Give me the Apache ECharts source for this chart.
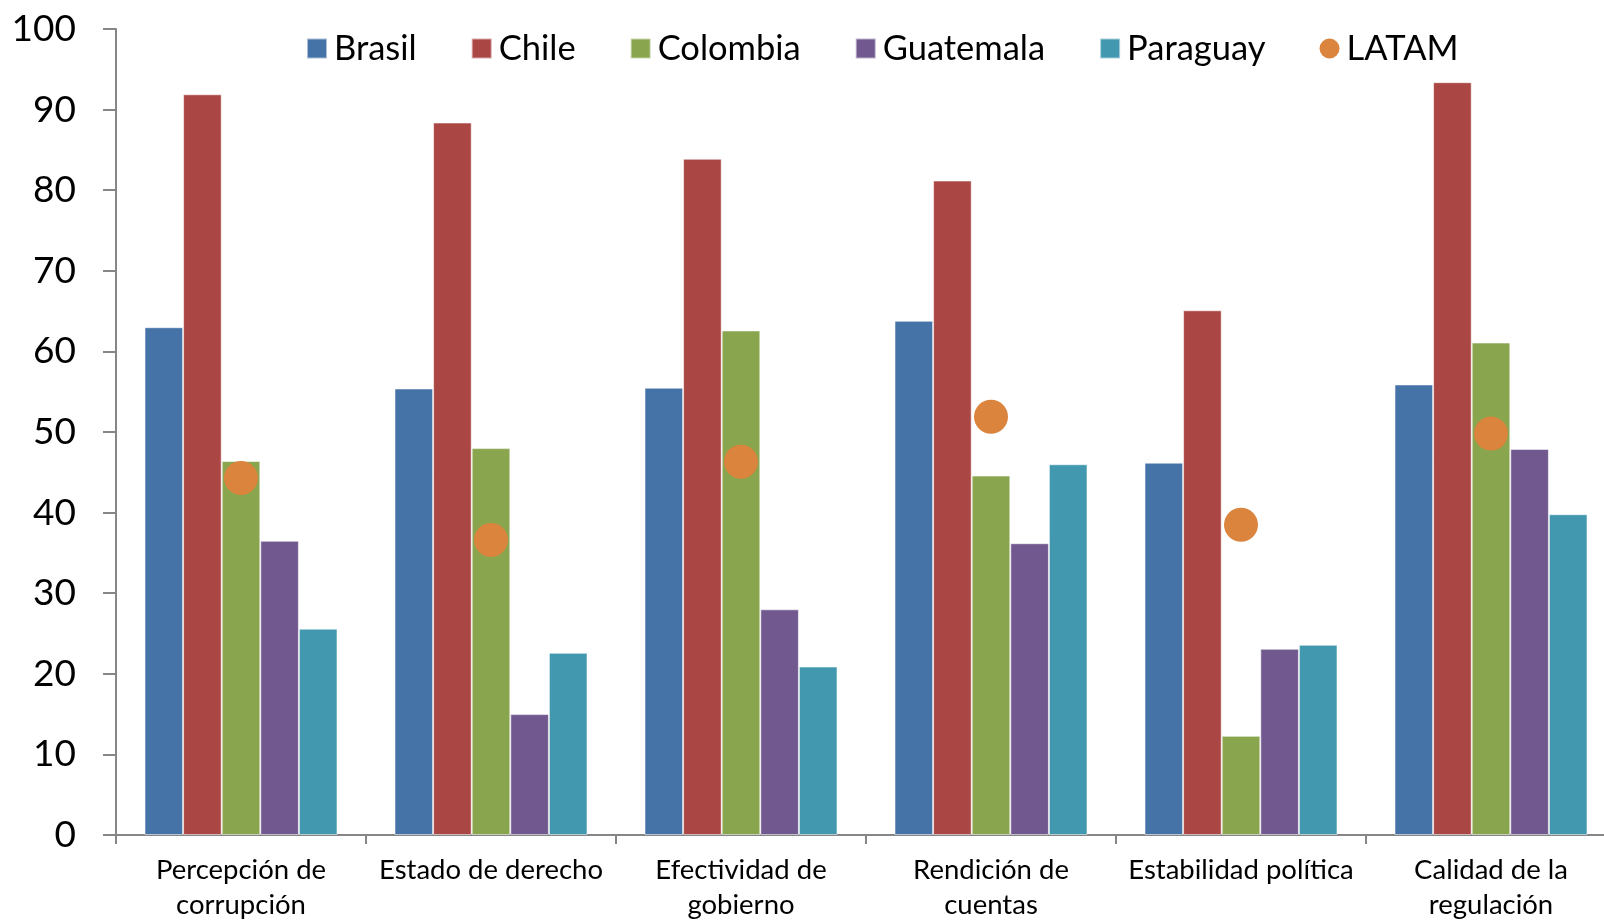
<!DOCTYPE html>
<html>
<head>
<meta charset="utf-8">
<script src="https://cdn.jsdelivr.net/npm/echarts@6/dist/echarts.min.js"></script>
<style>
  html, body { margin: 0; padding: 0; background: #ffffff; }
  #chart { width: 1604px; height: 922px; }
</style>
</head>
<body>
<div id="chart"></div>
<script>
// Governance indicators by country (percentile rank, 0-100)
const categories = [
  'Percepción de\ncorrupción',
  'Estado de derecho',
  'Efectividad de\ngobierno',
  'Rendición de\ncuentas',
  'Estabilidad política',
  'Calidad de la\nregulación'
];
const brasil    = [63.0, 55.4, 55.5, 63.8, 46.2, 55.9];
const chile     = [91.9, 88.4, 83.9, 81.2, 65.1, 93.4];
const colombia  = [46.4, 48.0, 62.6, 44.6, 12.3, 61.1];
const guatemala = [36.5, 15.0, 28.0, 36.2, 23.1, 47.9];
const paraguay  = [25.6, 22.6, 20.9, 46.0, 23.6, 39.8];
const latam     = [44.3, 36.6, 46.3, 51.9, 38.5, 49.8];
const yTicks    = { min: 0, max: 100, interval: 10 };

const FONT = 'Lato, "Open Sans", sans-serif';
const AXIS_GREY = '#868686';

function barSeries(name, data, color) {
  return {
    name: name,
    type: 'bar',
    data: data,
    barGap: '0%',
    barCategoryGap: '22.8%',
    itemStyle: {
      color: color,
      borderColor: 'rgba(255,255,255,0.55)',
      borderWidth: 1
    },
    emphasis: { disabled: true }
  };
}

const chart = echarts.init(document.getElementById('chart'), null, { renderer: 'canvas' });

chart.setOption({
  animation: false,
  backgroundColor: '#ffffff',
  textStyle: { fontFamily: FONT, color: '#000000' },
  legend: {
    top: 26,
    left: 301,
    itemWidth: 20,
    itemHeight: 20,
    itemGap: 54,
    textStyle: { fontFamily: FONT, fontSize: 34.5, color: '#000000', padding: [0, 0, 0, 2] },
    data: [
      { name: 'Brasil', icon: 'rect' },
      { name: 'Chile', icon: 'rect' },
      { name: 'Colombia', icon: 'rect' },
      { name: 'Guatemala', icon: 'rect' },
      { name: 'Paraguay', icon: 'rect' },
      { name: 'LATAM', icon: 'circle' }
    ]
  },
  grid: {
    left: 116,
    right: -12,
    top: 29,
    bottom: 87,
    containLabel: false,
    outerBoundsMode: 'none'
  },
  xAxis: {
    type: 'category',
    data: categories,
    axisLine: { show: true, lineStyle: { color: AXIS_GREY, width: 2 } },
    axisTick: { show: true, length: 9, alignWithLabel: false, lineStyle: { color: AXIS_GREY, width: 2 } },
    axisLabel: {
      interval: 0,
      margin: 18,
      fontFamily: FONT,
      fontSize: 27.5,
      lineHeight: 35,
      color: '#000000'
    },
    splitLine: { show: false }
  },
  yAxis: {
    type: 'value',
    min: yTicks.min,
    max: yTicks.max,
    interval: yTicks.interval,
    axisLine: { show: true, lineStyle: { color: AXIS_GREY, width: 2 } },
    axisTick: { show: true, inside: false, length: 13, lineStyle: { color: AXIS_GREY, width: 2 } },
    axisLabel: {
      margin: 40,
      fontFamily: FONT,
      fontSize: 37,
      color: '#000000'
    },
    splitLine: { show: false }
  },
  series: [
    barSeries('Brasil', brasil, '#4572A7'),
    barSeries('Chile', chile, '#AA4643'),
    barSeries('Colombia', colombia, '#89A54E'),
    barSeries('Guatemala', guatemala, '#71588F'),
    barSeries('Paraguay', paraguay, '#4198AF'),
    {
      name: 'LATAM',
      type: 'scatter',
      data: latam,
      symbol: 'circle',
      symbolSize: 34,
      itemStyle: { color: '#DB843D', opacity: 1 },
      z: 5,
      emphasis: { disabled: true }
    }
  ]
});
</script>
</body>
</html>
